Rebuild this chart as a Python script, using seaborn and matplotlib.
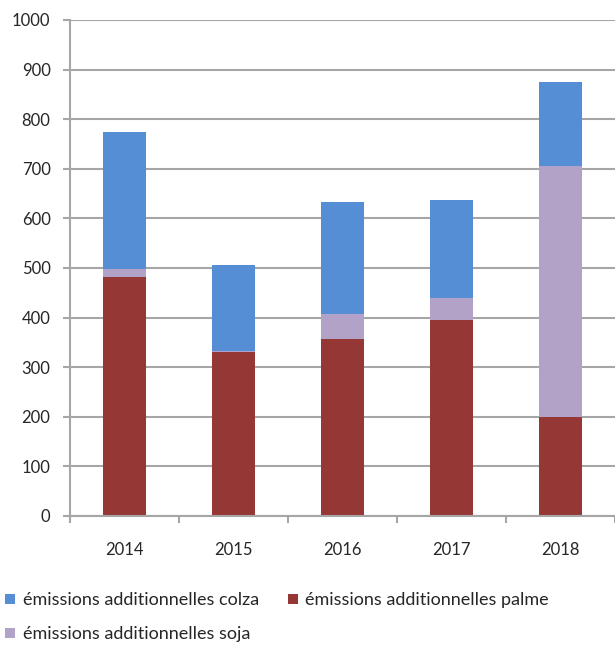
import matplotlib
matplotlib.use("Agg")
import matplotlib.pyplot as plt
from matplotlib.lines import Line2D
import seaborn as sns
import pandas as pd
import numpy as np

years = ["2014", "2015", "2016", "2017", "2018"]
palme = [481, 331, 356, 395, 199]
soja = [16, 2, 51, 44, 506]
colza = [278, 173, 227, 199, 170]
labels = ["émissions additionnelles colza", "émissions additionnelles palme", "émissions additionnelles soja"]
colors = {"colza": "#558ED5", "palme": "#953735", "soja": "#B3A2C7"}

sns.set_theme(style="white")
plt.rcParams["font.family"] = ["Lato", "DejaVu Sans"]
text_color = "#262626"
grid_color = "#A6A6A6"

df = pd.DataFrame({"year": years, "palme": palme, "soja": soja, "colza": colza})
df["ps"] = df["palme"] + df["soja"]
df["total"] = df["ps"] + df["colza"]

fig = plt.figure(figsize=(6.15, 6.47), dpi=100)
ax = fig.add_axes([70 / 615, 1 - 516 / 647, 1 - 70 / 615, (516 - 20) / 647])

for col, c in [("total", colors["colza"]), ("ps", colors["soja"]), ("palme", colors["palme"])]:
    sns.barplot(data=df, x="year", y=col, color=c, width=0.4, linewidth=0, saturation=1, ax=ax, zorder=3)

ax.set_ylim(0, 1000)
ax.set_xlim(-0.5, 4.5)
ax.set_yticks(np.arange(0, 1001, 100))
ax.yaxis.grid(True, color=grid_color, linewidth=1.5, zorder=0)
ax.set_axisbelow(True)
ax.set_xlabel("")
ax.set_ylabel("")
for s in ["top", "right"]:
    ax.spines[s].set_visible(False)
for s in ["left", "bottom"]:
    ax.spines[s].set_color(grid_color)
    ax.spines[s].set_linewidth(1.5)
    ax.spines[s].set_zorder(4)

ax.set_xticks(np.arange(-0.5, 5.0, 1.0), minor=True)
ax.tick_params(axis="x", which="major", length=0, pad=19, labelsize=12, labelcolor=text_color)
ax.tick_params(axis="x", which="minor", length=5, width=1.5, color=grid_color, bottom=True)
ax.tick_params(axis="y", which="major", length=5, width=1.5, color=grid_color, left=True, pad=9, labelsize=12, labelcolor=text_color)

def sq(c):
    return Line2D([], [], marker="s", linestyle="none", markersize=7, markerfacecolor=c, markeredgewidth=0)

# column-major filling: order so rows read colza, palme / soja
handles = [sq(colors["colza"]), sq(colors["soja"]), sq(colors["palme"])]
leg_labels = [labels[0], labels[2], labels[1]]
leg = fig.legend(handles, leg_labels, ncol=2, loc="upper left", bbox_to_anchor=(0.0, 1 - 587 / 647),
                 frameon=False, fontsize=13, labelspacing=1.0, handlelength=0.55, handletextpad=0.4,
                 columnspacing=1.6, borderaxespad=0, borderpad=0.3)
for t in leg.get_texts():
    t.set_color(text_color)

fig.savefig("out.png", dpi=100)
